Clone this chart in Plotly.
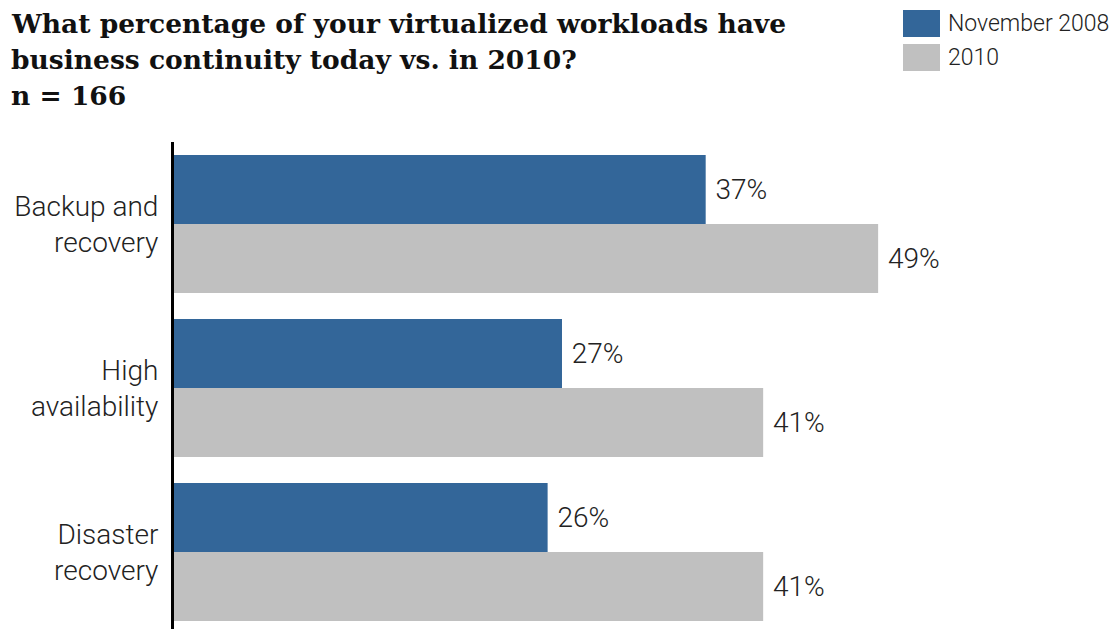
import plotly.graph_objects as go

categories = ["Backup and<br>recovery", "High<br>availability", "Disaster<br>recovery"]
series_names = ["November 2008", "2010"]
nov_2008 = [37, 27, 26]
y_2010 = [49, 41, 41]
colors = ["#336699", "#C0C0C0"]
title_lines = ["What percentage of your virtualized workloads have",
               "business continuity today vs. in 2010?",
               "n = 166"]

W, H = 1112, 629
L, R, T, B = 174, 0, 142, 0
pw, ph = W - L - R, H - T - B

def px_x(p):
    return (p - L) / pw

def px_y(p):
    return (H - B - p) / ph

label_font = dict(family="Roboto", size=28, color="#222222", weight=300)

fig = go.Figure()
for name, vals, col in zip(series_names, [nov_2008, y_2010], colors):
    fig.add_trace(go.Bar(
        y=categories, x=vals, name=name, orientation="h",
        marker=dict(color=col, line=dict(width=0)),
        text=[f"\u00a0{v}%" for v in vals], textposition="outside",
        textfont=label_font, cliponaxis=False, showlegend=False,
    ))

fig.update_layout(
    width=W, height=H, margin=dict(l=L, r=R, t=T, b=B),
    paper_bgcolor="white", plot_bgcolor="white",
    barmode="group", bargap=0.16, bargroupgap=0,
    xaxis=dict(range=[0, pw / 14.37], visible=False, fixedrange=True),
    yaxis=dict(categoryorder="array", categoryarray=categories,
               range=[-0.5 + ph / 164.0, -0.5], showgrid=False,
               showline=True, linecolor="black", linewidth=3,
               ticks="", tickfont=label_font, ticklabelstandoff=7,
               zeroline=False),
    font=dict(family="Roboto"),
)

# title
for i, line in enumerate(title_lines):
    fig.add_annotation(
        xref="paper", yref="paper", x=px_x(9), y=px_y(34 + i * 36),
        xanchor="left", yanchor="bottom", showarrow=False, text=f"<b>{line}</b>",
        font=dict(family="DejaVu Serif", size=26.5, color="#111111"),
        yshift=-7,
    )

# legend
for i, (name, col) in enumerate(zip(series_names, colors)):
    top = 10 + i * 34
    fig.add_shape(type="rect", xref="paper", yref="paper",
                  x0=px_x(903), x1=px_x(940), y0=px_y(top), y1=px_y(top + 27),
                  fillcolor=col, line=dict(width=0))
    fig.add_annotation(xref="paper", yref="paper", x=px_x(946), y=px_y(top + 13.5),
                       xanchor="left", yanchor="middle", showarrow=False, text=name,
                       font=dict(family="Roboto", size=23, color="#222222", weight=300))

fig.write_html("out.html")
